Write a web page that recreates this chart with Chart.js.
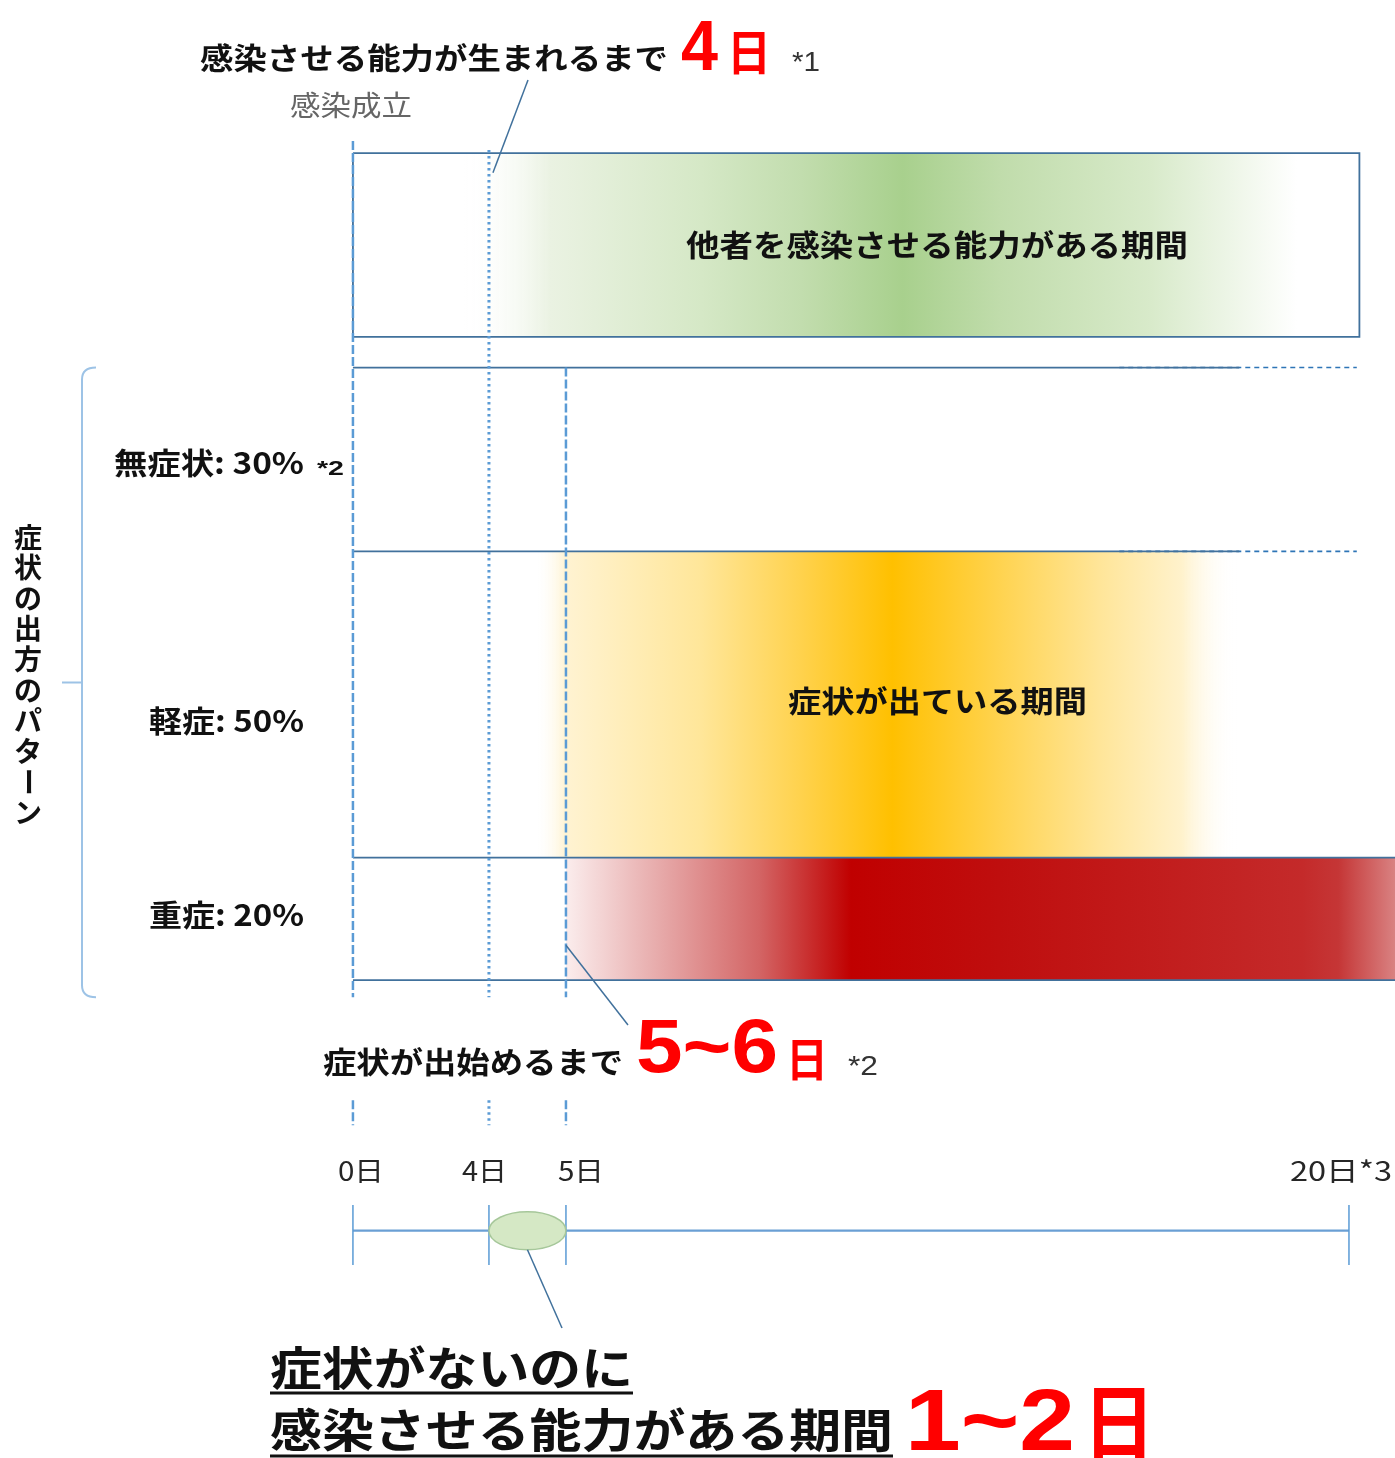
<!DOCTYPE html>
<html lang="ja">
<head>
<meta charset="utf-8">
<title>感染から発症まで</title>
<script src="https://cdn.jsdelivr.net/npm/chart.js@4.4.1/dist/chart.umd.min.js"></script>
<style>
  html, body { margin: 0; padding: 0; background: #fff; }
  #wrap { width: 1395px; height: 1458px; }
</style>
</head>
<body>
<div id="wrap"><canvas id="timeline-chart"></canvas></div>
<script>
// values (days since infection / share of cases in %)
const tickDays = [0, 4, 5, 20];
const tickLabels = ['0日', '4日', '5日', '20日*3'];
const patternNames = ['無症状', '軽症', '重症'];
const patternShares = [30, 50, 20];
const patternNotes = ['*2', '', ''];
const infectionDay = 0;
const infectiousFrom = 4;
const symptomFrom = 5;
const symptomOnsetRange = [5, 6];
const presymptomaticRange = [1, 2];
const infectiousBox = [0, 20.2];
const rowLineSolidTo = [17.9, 17.9, 21, 21];
const rowLineDashedTo = 20.15;

// gradient stops [day, colour] of the three periods
const infectiousGlow = [[3.2, 'rgba(255,255,255,0)'], [4.8, '#EAF2E2'], [7.6, '#D5E8C6'], [9.5, '#C2DDAE'],
  [11.45, '#A8D08D'], [13.3, '#C0DCAB'], [16.2, '#D8EACA'], [19.0, '#FFFFFF']];
const mildSymptoms = [[4.6, 'rgba(255,255,255,0)'], [5.0, '#FFF3D2'], [7.6, '#FFE699'], [9.5, '#FFD24D'],
  [11.25, '#FFC000'], [13.3, '#FFD34F'], [15.2, '#FFE598'], [16.8, '#FFF2CC'], [17.85, 'rgba(255,255,255,0)']];
const severeSymptoms = [[5.0, '#FBEDED'], [6.4, '#EBB8B8'], [8.7, '#D36565'], [10.46, '#C00000'],
  [13.3, '#BF0E0E'], [19.1, '#C42A2A'], [19.8, '#C53636'], [21, '#DB8A8A']];

const JP = '"Noto Sans CJK JP", sans-serif';
const LAT = '"Liberation Sans", Arial, sans-serif';
const LINE = '#41719C';
const GUIDE = '#5B9BD5';

// the source diagram is schematic: each day interval has its own width
const knotFrac = [0.2530, 0.3505, 0.4057, 0.9670];
class DayScale extends Chart.LinearScale {
  static id = 'days';
  static defaults = Chart.LinearScale.defaults;
  seg(v) {
    const n = tickDays.length;
    let i = 0;
    while (i < n - 2 && v > tickDays[i + 1]) i++;
    return i;
  }
  getPixelForValue(v) {
    const i = this.seg(v);
    const d = tickDays, f = knotFrac;
    const t = f[i] + (v - d[i]) * (f[i + 1] - f[i]) / (d[i + 1] - d[i]);
    return this.left + this.width * t;
  }
  getValueForPixel(p) {
    const t = (p - this.left) / this.width;
    const d = tickDays, f = knotFrac;
    let i = 0;
    while (i < f.length - 2 && t > f[i + 1]) i++;
    return d[i] + (t - f[i]) * (d[i + 1] - d[i]) / (f[i + 1] - f[i]);
  }
}
Chart.register(DayScale);

function gradient(chart, stops) {
  const x = chart.scales.x;
  if (!x || !chart.chartArea) return 'transparent';
  const x0 = x.getPixelForValue(stops[0][0]);
  const x1 = x.getPixelForValue(stops[stops.length - 1][0]);
  const g = chart.ctx.createLinearGradient(x0, 0, x1, 0);
  stops.forEach(([d, c]) => g.addColorStop(Math.min(1, Math.max(0, (x.getPixelForValue(d) - x0) / (x1 - x0))), c));
  return g;
}

function line(data, color, width, dash) {
  return { data, borderColor: color, borderWidth: width, borderDash: dash || [], pointRadius: 0,
    fill: false, tension: 0, spanGaps: false };
}
function band(stops, x0, x1, top, bottom) {
  return { data: [{ x: x0, y: top }, { x: x1, y: top }], borderWidth: 0, borderColor: 'rgba(0,0,0,0)',
    pointRadius: 0, fill: { value: bottom }, backgroundColor: (c) => gradient(c.chart, stops) };
}

// row boundaries from the shares
const rowEdges = [0];
patternShares.forEach(s => rowEdges.push(rowEdges[rowEdges.length - 1] + s));
const BOX = [-35, -5];           // vertical band of the top box
const GUIDE_END = 102.8;
const STUB = [119.6, 123.7];
const AXIS_Y = 140.9;

const guide = (d, from) => [{ x: d, y: from }, { x: d, y: GUIDE_END }, { x: d, y: null },
  { x: d, y: STUB[0] }, { x: d, y: STUB[1] }];

const datasets = [
  line(guide(infectionDay, -37), GUIDE, 2.5, [9, 3]),
  line(guide(infectiousFrom, -35.5), GUIDE, 3, [2.5, 3.5]),
  line(guide(symptomFrom, rowEdges[0]), GUIDE, 2.5, [9, 3]),
  // row separators
  ...rowEdges.map((y, i) => line([{ x: infectionDay, y }, { x: rowLineSolidTo[i], y }], LINE, 1.8)),
  line(rowEdges.slice(0, 2).flatMap(y => [{ x: 15.6, y }, { x: rowLineDashedTo, y }, { x: rowLineDashedTo, y: null }]),
    '#2E75B6', 1.6, [5, 4]),
  // top box outline
  line([{ x: infectiousBox[0], y: BOX[0] }, { x: infectiousBox[1], y: BOX[0] }, { x: infectiousBox[1], y: BOX[1] },
    { x: infectiousBox[0], y: BOX[1] }, { x: infectiousBox[0], y: BOX[0] }], LINE, 1.8),
  // timeline
  line(tickDays.flatMap(d => [{ x: d, y: AXIS_Y - 4.2 }, { x: d, y: AXIS_Y + 5.6 }, { x: d, y: null }]), GUIDE, 1.5),
  line([{ x: tickDays[0], y: AXIS_Y }, { x: tickDays[tickDays.length - 1], y: AXIS_Y }], '#6A9FD4', 2.2),
  // coloured periods
  band(infectiousGlow, infectiousBox[0], infectiousBox[1], BOX[0], BOX[1]),
  band(mildSymptoms, mildSymptoms[0][0], mildSymptoms[mildSymptoms.length - 1][0], rowEdges[1], rowEdges[2]),
  band(severeSymptoms, severeSymptoms[0][0], severeSymptoms[severeSymptoms.length - 1][0], rowEdges[2], rowEdges[3]),
];

function put(ctx, s, x, y, o) {
  ctx.save();
  ctx.font = `${o.weight || 'bold'} ${o.size}px ${o.family || JP}`;
  ctx.fillStyle = o.color || '#111';
  ctx.textBaseline = 'alphabetic';
  const w = ctx.measureText(s).width;
  const sx = o.width ? o.width / w : 1;
  const dw = w * sx;
  const left = o.align === 'center' ? x - dw / 2 : o.align === 'right' ? x - dw : x;
  ctx.translate(left, y);
  ctx.scale(sx, 1);
  ctx.fillText(s, 0, 0);
  ctx.restore();
  return left + dw;
}
function stroke(ctx, pts, color, width) {
  ctx.save();
  ctx.strokeStyle = color;
  ctx.lineWidth = width;
  ctx.beginPath();
  pts.forEach(([x, y], i) => i ? ctx.lineTo(x, y) : ctx.moveTo(x, y));
  ctx.stroke();
  ctx.restore();
}

const annotations = {
  id: 'annotations',
  afterDatasetsDraw(chart) {
    const ctx = chart.ctx;
    const X = chart.scales.x, Y = chart.scales.y;
    const px = d => X.getPixelForValue(d), py = v => Y.getPixelForValue(v);
    const RED = '#FF0000';

    // headline: time until infectious
    put(ctx, '感染させる能力が生まれるまで', 200, 69, { size: 30, width: 468 });
    put(ctx, String(infectiousFrom), 681, 70, { size: 70, family: LAT, color: RED, width: 37 });
    put(ctx, '日', 727, 70, { size: 48, color: RED, width: 44 });
    put(ctx, '*1', 792, 71, { size: 27, weight: 'normal', family: LAT, color: '#333', width: 28 });
    put(ctx, '感染成立', 290, 116, { size: 28, weight: 'normal', color: '#666', width: 122 });
    stroke(ctx, [[528, 80], [px(infectiousFrom) + 4, py(-31.8)]], LINE, 1.5);

    // period captions
    put(ctx, '他者を感染させる能力がある期間', 686, 256, { size: 30, width: 502 });
    put(ctx, '症状が出ている期間', 788, 712, { size: 30, width: 299 });

    // row labels
    const dy = [4, 17, -4];
    patternNames.forEach((n, i) => {
      const yc = (py(rowEdges[i]) + py(rowEdges[i + 1])) / 2 + dy[i];
      const end = put(ctx, `${n}: ${patternShares[i]}%`, 304, yc + 11, { size: 30, align: 'right',
        width: i === 0 ? 190 : 155 });
      if (patternNotes[i]) put(ctx, patternNotes[i], end + 13, yc + 12, { size: 20, family: LAT, width: 27 });
    });

    // bracket and vertical title
    ctx.save();
    ctx.strokeStyle = '#9DC3E6';
    ctx.lineWidth = 2;
    const bt = py(rowEdges[0]), bb = py(GUIDE_END), bm = (bt + bb) / 2;
    ctx.beginPath();
    ctx.moveTo(96, bt);
    ctx.quadraticCurveTo(82, bt, 82, bt + 12);
    ctx.lineTo(82, bb - 12);
    ctx.quadraticCurveTo(82, bb, 96, bb);
    ctx.moveTo(62, bm);
    ctx.lineTo(82, bm);
    ctx.stroke();
    ctx.restore();
    [...'症状の出方のパターン'].forEach((ch, i) => {
      const cy = 537 + i * 30.6;
      if (ch === 'ー') {
        ctx.save();
        ctx.translate(28, cy);
        ctx.rotate(Math.PI / 2);
        put(ctx, ch, 0, 10, { size: 28, align: 'center' });
        ctx.restore();
      } else {
        put(ctx, ch, 28, cy + 10.5, { size: 28, align: 'center' });
      }
    });

    // onset of symptoms
    stroke(ctx, [[px(symptomFrom), py(94.3)], [628, 1025]], LINE, 1.5);
    put(ctx, '症状が出始めるまで', 323, 1073, { size: 30, width: 300 });
    put(ctx, `${symptomOnsetRange[0]}~${symptomOnsetRange[1]}`, 636, 1072, { size: 76, family: LAT, color: RED, width: 142 });
    put(ctx, '日', 786, 1076, { size: 46, color: RED, width: 42 });
    put(ctx, '*2', 848, 1075, { size: 27, weight: 'normal', family: LAT, color: '#333', width: 30 });

    // timeline labels
    const labOff = [-15, -27, -8, -59];
    const labW = [46, 45, 46, 102];
    tickDays.forEach((d, i) => put(ctx, tickLabels[i], px(d) + labOff[i], 1181,
      { size: 27, weight: 'normal', color: '#262626', width: labW[i] }));

    // presymptomatic window marker
    const ex = (px(infectiousFrom) + px(symptomFrom)) / 2, er = (px(symptomFrom) - px(infectiousFrom)) / 2;
    ctx.save();
    ctx.beginPath();
    ctx.ellipse(ex, py(AXIS_Y), er, 19, 0, 0, Math.PI * 2);
    ctx.fillStyle = '#D5E8C5';
    ctx.fill();
    ctx.strokeStyle = '#A6C79A';
    ctx.lineWidth = 1.5;
    ctx.stroke();
    ctx.restore();
    stroke(ctx, [[ex, py(AXIS_Y) + 19], [562, 1328]], LINE, 1.5);

    // bottom statement
    put(ctx, '症状がないのに', 270, 1385, { size: 46, width: 363 });
    stroke(ctx, [[270, 1393], [633, 1393]], '#111', 3);
    put(ctx, '感染させる能力がある期間', 270, 1447, { size: 46, width: 623 });
    stroke(ctx, [[270, 1456], [893, 1456]], '#111', 3);
    put(ctx, `${presymptomaticRange[0]}~${presymptomaticRange[1]}`, 905, 1450, { size: 88, family: LAT, color: RED, width: 170 });
    put(ctx, '日', 1083, 1453, { size: 82, color: RED, width: 72 });
  }
};

new Chart(document.getElementById('timeline-chart'), {
  type: 'line',
  data: { datasets },
  options: {
    responsive: true,
    maintainAspectRatio: false,
    animation: false,
    events: [],
    layout: { padding: 0 },
    plugins: { legend: { display: false }, tooltip: { enabled: false } },
    scales: {
      x: { type: 'days', min: -10.4, max: 21, display: false },
      y: { type: 'linear', reverse: true, min: -60, max: 178, display: false }
    }
  },
  plugins: [annotations]
});
</script>
</body>
</html>
